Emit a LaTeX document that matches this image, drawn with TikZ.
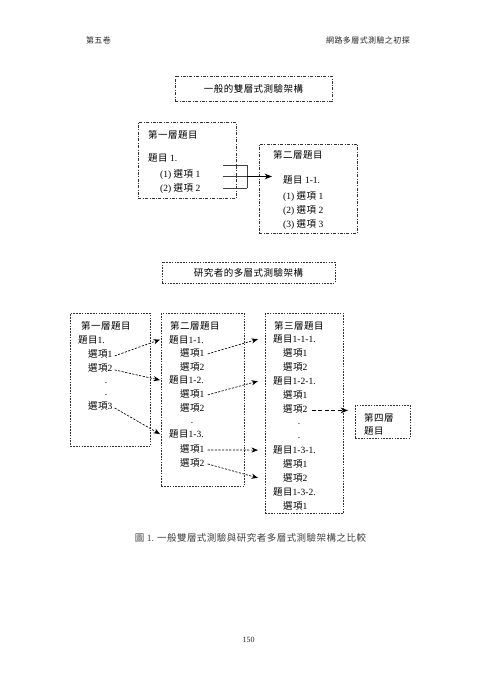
\documentclass[tikz,border=0pt]{standalone}
\usepackage{fontspec}
\setmainfont{Liberation Serif}
\newfontfamily\cjk[LetterSpace=5]{Noto Sans CJK TC}
\usetikzlibrary{arrows.meta, positioning, calc}
\newcommand\bodysize{\fontsize{9.5}{11}\selectfont}
\newcommand\smallsize{\fontsize{8}{9.5}\selectfont}
\tikzset{
  dashdotbox/.style={draw=black!80, line width=0.6pt, inner sep=0pt, anchor=north west,
                     dash pattern=on 3pt off 1.5pt on 0.7pt off 1.5pt},
  dotbox/.style={draw=black!80, line width=0.6pt, inner sep=0pt, anchor=north west,
                 dash pattern=on 1.6pt off 1.2pt},
  itemtxt/.style={anchor=base west, inner sep=1pt, font=\bodysize},
  dotmark/.style={anchor=base, inner sep=0pt, font=\bodysize},
  forkline/.style={line width=0.6pt, draw=black!75},
  forkarr/.style={-{Stealth[length=2.6mm, width=2mm]}, line width=0.8pt},
  linkarr/.style={-{Stealth[length=2.3mm, width=1.8mm]}, line width=0.65pt,
                  dash pattern=on 2.2pt off 1.4pt},
  bigarr/.style={-{Stealth[length=2.6mm, width=2mm]}, line width=1.1pt,
                 dash pattern=on 4pt off 2.5pt},
}
\begin{document}
\begin{tikzpicture}[x=1pt, y=-1pt,
    pagetxt/.style={inner sep=0pt, font=\smallsize, text=black!85}]
  \useasboundingbox (0,0) rectangle (495,700);

  \node[pagetxt] (hdl) at (98.5,40) {\cjk 第五卷};
  \node[pagetxt, anchor=east] (hdr) at (410,40) {\cjk 網路多層式測驗之初探};

  % two-tier frame
  \node[dashdotbox, anchor=center, minimum width=157pt, minimum height=25pt, font=\bodysize]
    (ttl1) at (253.5,88.5) {\cjk 一般的雙層式測驗架構};

  \node[dashdotbox, minimum width=98pt, minimum height=76pt] (abox) at (138,122) {};
  \node[itemtxt] (a-hd) at (147,138.5) {\cjk 第一層題目};
  \node[itemtxt] (a-q) at (147,161.5) {{\cjk 題目} 1.};
  \node[itemtxt] (a-o1) at (159,177.5) {(1) {\cjk 選項} 1};
  \node[itemtxt] (a-o2) at (159,191.5) {(2) {\cjk 選項} 2};

  \node[dashdotbox, minimum width=98pt, minimum height=89pt] (bbox) at (259,144) {};
  \node[itemtxt] (b-hd) at (272,159) {\cjk 第二層題目};
  \node[itemtxt] (b-q) at (282,184) {{\cjk 題目} 1-1.};
  \node[itemtxt] (b-o1) at (282,199.5) {(1) {\cjk 選項} 1};
  \node[itemtxt] (b-o2) at (282,213.5) {(2) {\cjk 選項} 2};
  \node[itemtxt] (b-o3) at (282,227.5) {(3) {\cjk 選項} 3};

  \coordinate (ja) at (223,165);
  \coordinate (jb) at (223,176.5);
  \coordinate (jc) at (223,188);
  \coordinate (fork) at (247,176.5);
  \coordinate (tip) at (272,176.5);
  \foreach \c in {ja,jb,jc} {
    \draw[forkline] (\c) -- (\c -| fork);
  }
  \draw[forkline] (ja -| fork) -- (jc -| fork);
  \draw[forkarr] (fork) -- (tip);

  % multi-tier frame
  \node[dotbox, anchor=center, minimum width=173pt, minimum height=21pt, font=\bodysize]
    (ttl2) at (248.5,272.5) {\cjk 研究者的多層式測驗架構};

  \node[dotbox, minimum width=80pt, minimum height=133pt] (cbox) at (70,313) {};
  \node[itemtxt] (c-hd) at (80,329.5) {\cjk 第一層題目};
  \node[itemtxt] (c-q) at (77,343.5) {{\cjk 題目}1.};
  \node[itemtxt] (c-o1) at (87,357.5) {{\cjk 選項}1};
  \node[itemtxt] (c-o2) at (87,371.5) {{\cjk 選項}2};
  \node[dotmark] (c-dt1) at (106,383) {.};
  \node[dotmark] (c-dt2) at (106,395) {.};
  \node[itemtxt] (c-o3) at (87,409.5) {{\cjk 選項}3};

  \node[dotbox, minimum width=83pt, minimum height=173pt] (dbox) at (161,313) {};
  \node[itemtxt] (d-hd) at (169,329.5) {\cjk 第二層題目};
  \node[itemtxt] (d-q1) at (168,343) {{\cjk 題目}1-1.};
  \node[itemtxt] (d-o11) at (179,356.5) {{\cjk 選項}1};
  \node[itemtxt] (d-o12) at (179,370) {{\cjk 選項}2};
  \node[itemtxt] (d-q2) at (168,383.5) {{\cjk 題目}1-2.};
  \node[itemtxt] (d-o21) at (179,397.5) {{\cjk 選項}1};
  \node[itemtxt] (d-o22) at (179,411.5) {{\cjk 選項}2};
  \node[dotmark] (d-dt) at (192,423) {.};
  \node[itemtxt] (d-q3) at (168,437.5) {{\cjk 題目}1-3.};
  \node[itemtxt] (d-o31) at (179,452.5) {{\cjk 選項}1};
  \node[itemtxt] (d-o32) at (179,466.5) {{\cjk 選項}2};

  \node[dotbox, minimum width=78pt, minimum height=200pt] (ebox) at (265,313) {};
  \node[itemtxt] (e-hd) at (273,329.5) {\cjk 第三層題目};
  \node[itemtxt] (e-q11) at (272,342.5) {{\cjk 題目}1-1-1.};
  \node[itemtxt] (e-o111) at (282,356.5) {{\cjk 選項}1};
  \node[itemtxt] (e-o112) at (282,370.5) {{\cjk 選項}2};
  \node[itemtxt] (e-q21) at (272,384.5) {{\cjk 題目}1-2-1.};
  \node[itemtxt] (e-o211) at (282,398) {{\cjk 選項}1};
  \node[itemtxt] (e-o212) at (282,412) {{\cjk 選項}2};
  \node[dotmark] (e-dt1) at (299,424) {.};
  \node[dotmark] (e-dt2) at (299,438) {.};
  \node[itemtxt] (e-q31) at (272,453.5) {{\cjk 題目}1-3-1.};
  \node[itemtxt] (e-o311) at (282,467.5) {{\cjk 選項}1};
  \node[itemtxt] (e-o312) at (282,481.5) {{\cjk 選項}2};
  \node[itemtxt] (e-q32) at (272,495.5) {{\cjk 題目}1-3-2.};
  \node[itemtxt] (e-o321) at (282,509.5) {{\cjk 選項}1};

  \node[dotbox, minimum width=55pt, minimum height=33pt] (fbox) at (355,405) {};
  \node[itemtxt] (f-l1) at (363,421.5) {\cjk 第四層};
  \node[itemtxt] (f-l2) at (363,434.5) {\cjk 題目};

  \foreach \a/\b in {c-o1/d-q1, c-o2/d-q2, c-o3/d-q3} {
    \draw[linkarr] ([xshift=1pt, yshift=-2pt]\a.east) -- ($(\b.west -| dbox.west)+(-1,0)$);
  }
  \foreach \a/\b in {d-o11/e-q11, d-o21/e-q21, d-o31/e-q31, d-o32/e-o312} {
    \draw[linkarr] ([xshift=2pt, yshift=-1pt]\a.east) -- ($(\b.west -| ebox.west)+(-7,0)$);
  }
  \draw[bigarr] ([xshift=3pt, yshift=-2pt]e-o212.east) -- ($([yshift=-2pt]e-o212.east -| fbox.west)+(-7,0)$);

  \node[inner sep=0pt, font=\bodysize, text=black!75] (cap) at (250.5,538)
    {{\cjk 圖} 1. {\cjk 一般雙層式測驗與研究者多層式測驗架構之比較}};
  \node[pagetxt] (pgno) at (248.5,640) {150};
\end{tikzpicture}
\end{document}
